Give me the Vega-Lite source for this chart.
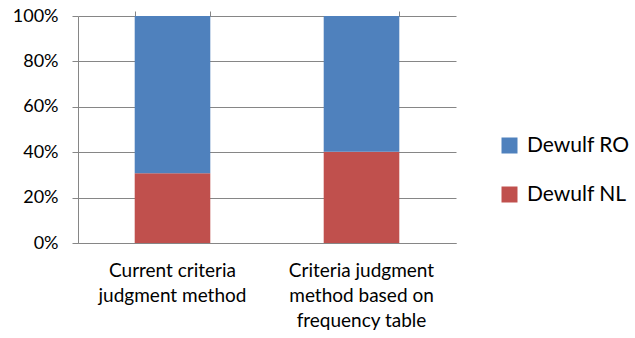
{
  "$schema": "https://vega.github.io/schema/vega-lite/v6.json",
  "width": 378,
  "height": 227,
  "autosize": {"type": "none"},
  "padding": {"left": 78, "top": 16, "right": 179, "bottom": 95},
  "background": "white",
  "data": {
    "values": [
      {"method": "Current criteria judgment method", "series": "Dewulf NL", "share": 0.307},
      {"method": "Current criteria judgment method", "series": "Dewulf RO", "share": 0.693},
      {"method": "Criteria judgment method based on frequency table", "series": "Dewulf NL", "share": 0.402},
      {"method": "Criteria judgment method based on frequency table", "series": "Dewulf RO", "share": 0.598}
    ]
  },
  "config": {
    "font": "Lato",
    "view": {"stroke": null},
    "axis": {
      "labelFont": "Lato",
      "labelColor": "#000000",
      "domainColor": "#868686",
      "tickColor": "#868686",
      "gridColor": "#868686",
      "domainWidth": 1,
      "tickWidth": 1,
      "gridWidth": 1
    }
  },
  "encoding": {
    "y": {
      "field": "share",
      "type": "quantitative",
      "stack": "zero",
      "scale": {"domain": [0, 1], "nice": false},
      "axis": {
        "title": null,
        "format": ".0%",
        "values": [0, 0.2, 0.4, 0.6, 0.8, 1],
        "labelFontSize": 18,
        "labelPadding": 14,
        "tickSize": 6,
        "grid": true
      }
    },
    "order": {"field": "series", "sort": "ascending"}
  },
  "layer": [
    {
      "mark": {"type": "bar"},
      "encoding": {
        "x": {
          "field": "method",
          "type": "nominal",
          "sort": null,
          "scale": {"paddingInner": 0.6, "paddingOuter": 0.3},
          "axis": {
            "title": null,
            "labelAngle": 0,
            "labelFontSize": 19,
            "labelLineHeight": 25,
            "labelPadding": 18,
            "labelBaseline": "top",
            "ticks": false,
            "tickSize": 0,
            "labelExpr": "datum.value == 'Current criteria judgment method' ? ['Current criteria', 'judgment method'] : ['Criteria judgment', 'method based on', 'frequency table']"
          }
        },
        "color": {
          "field": "series",
          "type": "nominal",
          "scale": {"domain": ["Dewulf RO", "Dewulf NL"], "range": ["#4F81BD", "#C0504D"]},
          "legend": {
            "title": null,
            "orient": "none",
            "legendX": 421,
            "legendY": 119,
            "symbolType": "square",
            "symbolSize": 256,
            "symbolStrokeWidth": 0,
            "labelFont": "Lato",
            "labelFontSize": 21,
            "labelColor": "#000000",
            "labelOffset": 7,
            "rowPadding": 27
          }
        }
      }
    },
    {
      "mark": {"type": "bar", "opacity": 0},
      "encoding": {
        "x": {
          "field": "method",
          "type": "nominal",
          "sort": null,
          "scale": {"paddingInner": 0.6, "paddingOuter": 0.3},
          "axis": {
            "title": null,
            "labels": false,
            "domain": false,
            "tickBand": "extent",
            "tickSize": 5
          }
        }
      }
    }
  ],
  "resolve": {"axis": {"x": "independent"}}
}
